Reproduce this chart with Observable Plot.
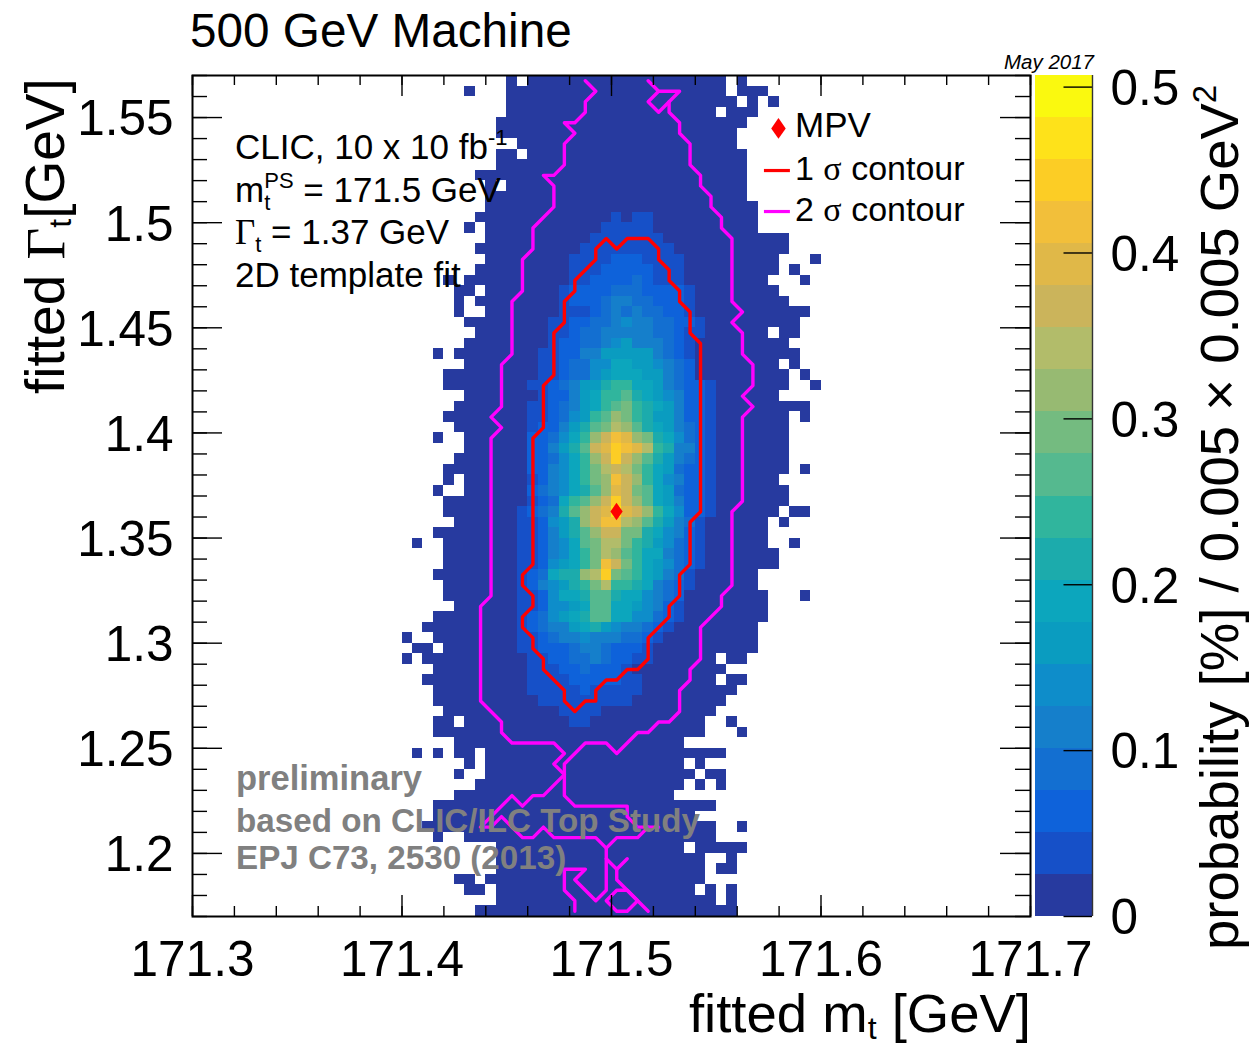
<!DOCTYPE html>
<html><head><meta charset="utf-8">
<script src="https://cdn.jsdelivr.net/npm/d3@7"></script>
<script src="https://cdn.jsdelivr.net/npm/@observablehq/plot@0.6"></script>
<style>
html,body{margin:0;padding:0;background:#fff}
#c{position:relative;width:1252px;height:1045px;overflow:hidden;font-family:"Liberation Sans",Arial,sans-serif;color:#000}
#c svg{position:absolute;left:0;top:0;background:transparent}
.t{position:absolute;white-space:nowrap;line-height:1}
.s{font-family:"Liberation Serif",serif}
sub,sup{line-height:0;vertical-align:baseline;position:relative}
</style></head><body><div id="c"></div>
<script>
const bandColors=["#273a9f","#1650c8","#0e62da","#136fd1","#157fcb","#0e8dca","#0a9cc0","#0ca6bd","#1cabac","#30b59d","#55b98f","#74bb80","#97ba72","#b2bc6a","#cbb45b","#e0b848","#f2bf3a","#fccd25","#fee21a","#faf90f"];
const bandWidth=0.02535;
const binSize=0.005;
const massRange=[171.3,171.7];
const widthRange=[1.17,1.57];
const massTicks=[171.3,171.4,171.5,171.6,171.7];
const widthTicks=[1.2,1.25,1.3,1.35,1.4,1.45,1.5,1.55];
const probTicks=[0,0.1,0.2,0.3,0.4,0.5];

// occupied bin runs per row, top row first: [firstColumn,lastColumn]
const occupied=[
[[30,30],[32,50],[52,52]],[[26,26],[30,50],[52,54]],[[30,51],[53,53],[55,55]],[[30,49],[51,53]],[[29,52]],[[29,51]],[[31,51]],[[29,30],[32,52]],[[29,52]],[[27,52]],
[[28,28],[30,52]],[[28,52]],[[28,53]],[[27,53]],[[26,26],[28,53]],[[28,56]],[[27,56]],[[28,55],[59,59]],[[27,55],[57,57]],[[24,24],[26,54],[58,58]],
[[25,26],[28,55]],[[25,25],[27,56]],[[25,25],[28,58]],[[26,57]],[[27,54],[56,57]],[[26,56]],[[23,23],[25,57]],[[26,55],[57,57]],[[24,56],[58,58]],[[24,56],[59,59]],
[[26,55]],[[25,58]],[[24,56],[58,58]],[[25,56]],[[23,23],[26,56]],[[26,56]],[[25,56]],[[24,56],[58,58]],[[24,24],[26,55]],[[23,23],[26,56]],
[[24,56]],[[24,55],[57,58]],[[25,54],[56,56]],[[23,54]],[[21,21],[24,54],[57,57]],[[24,55]],[[24,55]],[[23,53]],[[24,53]],[[24,54],[58,58]],
[[25,54]],[[23,54]],[[22,53]],[[20,20],[23,53]],[[21,22],[24,53]],[[20,20],[22,49],[51,52]],[[23,50]],[[22,49],[51,52]],[[23,51]],[[23,50]],
[[24,49]],[[23,24],[26,48],[51,51]],[[23,48],[52,52]],[[25,46]],[[21,21],[23,23],[25,26],[28,50]],[[26,26],[28,46],[48,48]],[[25,25],[28,47],[49,50]],[[27,46],[48,48],[50,50]],[[25,45]],[[23,49]],
[[23,47]],[[22,49],[52,52]],[[23,23],[26,49]],[[29,46],[48,52]],[[29,48],[51,51]],[[29,48],[50,51]],[[25,26],[28,48]],[[26,27],[29,47],[49,49],[51,51]],[[29,49],[51,51]],[[27,51]]
];

// colour band (1 = lowest) of the inner bins: [row, firstColumn, bands]
const interior=[
[13,40,[2,1,2,2]],
[14,39,[2,2,2,2,2]],
[15,38,[2,2,2,2,2,2,2]],
[16,37,[2,2,2,2,2,2,2,2,2]],
[17,36,[2,2,2,2,3,3,3,2,2,2,2]],
[18,36,[2,2,2,3,3,3,3,3,2,2,2]],
[19,36,[2,2,3,3,3,3,4,3,2,2,2]],
[20,35,[2,3,3,3,3,4,4,4,3,3,3,3,2]],
[21,35,[2,3,3,3,4,5,5,4,4,3,3,3,2]],
[22,35,[2,2,2,3,4,5,4,5,4,4,3,3,2]],
[23,34,[2,2,3,3,4,4,5,6,5,5,4,4,3,3,2]],
[24,34,[2,2,3,4,4,5,5,5,5,5,4,4,3,2,2]],
[25,34,[2,3,3,4,4,5,6,7,5,5,5,4,3,2]],
[26,33,[2,2,3,3,5,5,7,7,7,7,7,5,4,3,2]],
[27,33,[2,2,3,4,4,6,6,8,8,7,7,6,5,4,3]],
[28,33,[2,2,3,4,4,6,7,8,8,8,7,7,5,4,3]],
[29,32,[2,2,3,4,5,7,7,9,10,10,8,8,7,5,4,3,3,2]],
[30,33,[2,3,3,5,7,8,10,10,11,9,8,7,6,5,3,3,2]],
[31,32,[2,2,3,4,5,7,8,10,11,12,10,9,8,7,5,3,3,2]],
[32,32,[2,2,3,4,6,7,10,11,13,12,10,9,7,7,5,3,3,2]],
[33,32,[2,3,3,5,7,9,11,12,14,13,11,9,8,7,5,4,3,2]],
[34,32,[3,3,4,6,8,10,13,15,17,16,13,12,9,8,6,4,3,2]],
[35,32,[3,3,5,7,9,11,15,16,18,17,16,14,10,9,5,5,3,2]],
[36,32,[3,3,4,6,8,10,13,15,18,15,13,11,9,7,5,4,3,2]],
[37,32,[3,3,5,6,8,10,12,14,15,14,12,10,8,7,4,3,3,2]],
[38,32,[2,3,5,6,8,10,12,13,17,15,13,10,8,6,5,3,3,2]],
[39,32,[3,4,5,6,8,9,11,13,16,15,12,11,8,7,4,3,3,2]],
[40,32,[2,3,4,8,10,11,13,15,18,15,13,11,8,7,5,3,3,2]],
[41,31,[2,3,4,5,9,11,13,15,16,19,16,15,13,10,8,6,3,3,2]],
[42,31,[2,2,3,6,7,9,13,15,17,17,14,13,11,9,7,5,4,2]],
[43,31,[2,2,3,5,7,9,11,13,15,15,12,12,9,8,6,5,3,2]],
[44,31,[2,2,3,5,6,8,11,12,14,14,12,10,9,7,6,4,3,2]],
[45,31,[2,2,3,5,6,8,10,12,14,13,11,10,8,8,5,4,3,2]],
[46,31,[2,2,3,6,7,8,10,12,17,15,12,10,8,7,6,4,3,2]],
[47,31,[2,3,4,8,9,9,13,14,18,12,11,10,8,7,5,4,2]],
[48,31,[2,3,5,6,7,9,10,12,14,10,10,9,8,5,4,3,2]],
[49,31,[2,2,3,6,8,8,9,11,11,9,8,8,6,5,4,3]],
[50,31,[2,2,3,6,6,7,8,11,11,8,8,7,6,5,3,2]],
[51,31,[2,3,4,6,7,8,9,11,11,8,8,6,6,4,3,2]],
[52,31,[2,3,4,5,5,7,8,9,7,6,5,5,4,3,2]],
[53,31,[2,2,3,4,5,5,6,5,5,5,4,4,3,2]],
[54,31,[2,2,3,3,3,4,5,5,4,3,3,3,2]],
[55,32,[2,2,3,3,4,4,5,4,3,3,2,2]],
[56,32,[2,2,2,3,3,4,3,3,3,2]],
[57,32,[2,2,2,2,3,3,3,3,3,2,2]],
[58,32,[2,2,2,2,2,3,2,2,2,2,2]],
[59,33,[2,2,2,2,2,2,2,2,2]],
[60,35,[2,2,2,2]],
[61,36,[2,2]]
];

// contours run through bin centres: [column,row]
const contour1=[[39,15],[38,16],[38,17],[36,19],[36,20],[35,21],[35,23],[34,24],[34,28],[33,29],[33,33],[32,34],[32,46],[31,47],[31,48],[32,49],[32,50],[31,51],[31,52],[32,53],[32,54],[33,55],[33,56],[35,58],[35,59],[36,60],[37,59],[38,59],[38,58],[39,57],[40,57],[41,56],[42,56],[43,55],[43,53],[45,51],[45,50],[46,49],[46,47],[47,46],[47,42],[48,41],[48,25],[47,24],[47,22],[46,21],[46,20],[45,19],[45,18],[44,17],[44,16],[43,15],[41,15],[40,16],[39,15]];
const contour2Left=[[37,0],[38,1],[37,2],[37,3],[36,4],[35,4],[36,5],[35,6],[35,8],[34,9],[33,9],[34,10],[34,12],[32,14],[32,16],[31,17],[31,20],[30,21],[30,26],[29,27],[29,31],[28,32],[29,33],[28,34],[28,49],[27,50],[27,59],[28,60],[29,61],[29,62],[30,63],[34,63],[35,64],[34,65],[35,66],[33,68],[32,68],[31,69],[30,68],[27,71],[28,71],[29,70],[31,72],[32,72],[33,71],[34,72],[38,72],[39,73],[39,77],[38,78],[36,76],[37,75],[35,75],[35,77],[36,78],[36,79]];
const contour2Right=[[43,0],[44,1],[46,1],[45,2],[45,3],[46,4],[46,5],[47,6],[47,8],[48,9],[48,10],[49,11],[49,12],[50,13],[50,14],[51,15],[51,21],[52,22],[51,23],[52,24],[52,26],[53,27],[53,29],[52,30],[53,31],[52,32],[52,40],[51,41],[51,48],[50,49],[50,50],[48,52],[48,55],[47,56],[47,57],[46,58],[46,60],[45,61],[44,61],[43,62],[42,62],[40,64],[39,63],[37,63],[35,65],[35,68],[36,69],[41,69],[41,70],[42,71],[44,71]];
const contour2Loop=[[44,1],[43,2],[44,3],[45,2]];
const contour2Branch=[[39,73],[40,72],[42,72],[43,71]];
const contour2Tail1=[[39,74],[40,75],[41,74]];
const contour2Tail2=[[40,75],[40,76],[43,79]];
const contour2Ring=[[40,77],[41,77],[42,78],[41,79],[40,79],[39,78],[40,77]];

const mpv=[{x:171.5024,y:1.3626}];
const legendDiamond=[{x:171.5797,y:1.5448}];
const legendLines=[{y:1.5248,x1:171.573,x2:171.5854,c:"#ff0000"},{y:1.5053,x1:171.573,x2:171.5854,c:"#ff00ff"}];

const binX=c=>massRange[0]+binSize*(c+0.5);
const binY=r=>widthRange[1]-binSize*(r+0.5);
const level=new Map();
interior.forEach(([r,c0,bs])=>bs.forEach((b,i)=>level.set(r+"_"+(c0+i),b)));
const cells=[];
occupied.forEach((runs,r)=>runs.forEach(([a,b])=>{for(let c=a;c<=b;c++){
  const band=level.get(r+"_"+c)||1;
  cells.push({x1:massRange[0]+binSize*c,x2:massRange[0]+binSize*(c+1),y1:widthRange[1]-binSize*(r+1),y2:widthRange[1]-binSize*r,v:(band-0.5)*bandWidth});
}}));
const thresholds=d3.range(1,20).map(i=>i*bandWidth);
const toLine=(pts,k)=>pts.map(([c,r])=>({x:binX(c),y:binY(r),k}));
const mag=[contour2Left,contour2Right,contour2Loop,contour2Branch,contour2Tail1,contour2Tail2,contour2Ring].flatMap((p,i)=>toLine(p,i));

const narrowDiamond={draw(ctx,size){const h=Math.sqrt(size)*0.9,w=h*0.7;ctx.moveTo(0,-h);ctx.lineTo(w,0);ctx.lineTo(0,h);ctx.lineTo(-w,0);ctx.closePath();}};

const xMinor=d3.range(0,21).map(i=>171.3+i*0.02);
const yMinor=d3.range(0,41).map(i=>1.17+i*0.01);
const xMajor=massTicks, yMajor=widthTicks;
const dy=0.4/841, dx=0.4/838;
const tickMarks=[
 Plot.ruleX(xMinor,{x:d=>d,y1:1.17,y2:1.17+10*dy,stroke:"#000",strokeWidth:1.4}),
 Plot.ruleX(xMinor,{x:d=>d,y1:1.57,y2:1.57-10*dy,stroke:"#000",strokeWidth:1.4}),
 Plot.ruleX(xMajor,{x:d=>d,y1:1.17,y2:1.17+21*dy,stroke:"#000",strokeWidth:1.4}),
 Plot.ruleX(xMajor,{x:d=>d,y1:1.57,y2:1.57-21*dy,stroke:"#000",strokeWidth:1.4}),
 Plot.ruleY(yMinor,{y:d=>d,x1:171.3,x2:171.3+15*dx,stroke:"#000",strokeWidth:1.4}),
 Plot.ruleY(yMinor,{y:d=>d,x1:171.7,x2:171.7-15*dx,stroke:"#000",strokeWidth:1.4}),
 Plot.ruleY(yMajor,{y:d=>d,x1:171.3,x2:171.3+30*dx,stroke:"#000",strokeWidth:1.4}),
 Plot.ruleY(yMajor,{y:d=>d,x1:171.7,x2:171.7-30*dx,stroke:"#000",strokeWidth:1.4})
];
const fontFamily='"Liberation Sans",Arial,sans-serif';
const main=Plot.plot({
 width:1252,height:1045,marginLeft:192,marginRight:222,marginTop:75,marginBottom:129,
 style:{fontFamily,background:"transparent",color:"#000"},
 x:{domain:massRange,label:null},
 y:{domain:widthRange,label:null},
 color:{type:"threshold",domain:thresholds,range:bandColors},
 marks:[
  Plot.rect(cells,{x1:"x1",x2:"x2",y1:"y1",y2:"y2",fill:"v",shapeRendering:"crispEdges"}),
  Plot.line(toLine(contour1,0),{x:"x",y:"y",stroke:"#ff0000",strokeWidth:3.4,curve:"linear",strokeLinejoin:"round"}),
  Plot.line(mag,{x:"x",y:"y",z:"k",stroke:"#ff00ff",strokeWidth:3.4,curve:"linear",strokeLinejoin:"round"}),
  Plot.dot(mpv,{x:"x",y:"y",symbol:narrowDiamond,r:5.5,fill:"#ff0000",stroke:"none"}),
  Plot.dot(legendDiamond,{x:"x",y:"y",symbol:narrowDiamond,r:6.5,fill:"#ff0000",stroke:"none"}),
  Plot.ruleY(legendLines,{y:"y",x1:"x1",x2:"x2",stroke:"c",strokeWidth:3.2}),
  ...tickMarks,
  Plot.frame({stroke:"#000",strokeWidth:2}),
  Plot.axisX({ticks:massTicks,tickSize:0,tickPadding:24,fontSize:49.5,label:null,tickFormat:d=>d.toFixed(1)}),
  Plot.axisY({ticks:widthTicks,tickSize:0,tickPadding:19,fontSize:49.5,dy:2,label:null,tickFormat:d=>String(+d.toFixed(2))})
 ]
});
const bands=bandColors.map((c,i)=>({y1:i*bandWidth,y2:(i+1)*bandWidth,v:(i+0.5)*bandWidth}));
const bar=Plot.plot({
 width:1252,height:1045,marginLeft:1035,marginRight:160,marginTop:75,marginBottom:129,
 style:{fontFamily,background:"transparent",color:"#000"},
 x:{domain:[0,1],axis:null},
 y:{domain:[0,20*bandWidth],label:null},
 color:{type:"threshold",domain:thresholds,range:bandColors},
 marks:[
  Plot.rect(bands,{x1:0,x2:1,y1:"y1",y2:"y2",fill:"v",shapeRendering:"crispEdges"}),
  Plot.ruleY(probTicks,{y:d=>d,x1:0.5,x2:1,stroke:"#000",strokeWidth:1.4}),
  Plot.ruleX([1],{stroke:"#333",strokeWidth:1.4}),
  Plot.axisY({anchor:"right",ticks:probTicks,tickSize:0,tickPadding:18,fontSize:49.5,dy:2,label:null,tickFormat:d=>String(d)})
 ]
});
const c=document.getElementById("c");
c.append(main,bar);
const notes=[
 ['500 GeV Machine','left:190px;top:7px;font-size:47.7px'],
 ['CLIC, 10 x 10 fb<sup style="font-size:22px;top:-14px">-1</sup>','left:235px;top:129px;font-size:35px'],
 ['m<sub style="font-size:22px;top:8px;margin-right:-6px">t</sub><sup style="font-size:22px;top:-14px">PS</sup> = 171.5 GeV','left:235px;top:172px;font-size:35px'],
 ['<span class="s">Γ</span><sub style="font-size:22px;top:8px">t</sub> = 1.37 GeV','left:235px;top:214px;font-size:35px'],
 ['2D template fit','left:235px;top:257px;font-size:35px'],
 ['<b>preliminary</b>','left:236px;top:761px;font-size:34.5px;color:#808080'],
 ['<b>based on CLIC/ILC Top Study</b>','left:236px;top:804px;font-size:33.2px;color:#808080'],
 ['<b>EPJ C73, 2530 (2013)</b>','left:236px;top:841px;font-size:33.2px;color:#808080'],
 ['MPV','left:795px;top:107px;font-size:35px'],
 ['1 <span class="s">σ</span> contour','left:795px;top:151px;font-size:34px'],
 ['2 <span class="s">σ</span> contour','left:795px;top:192px;font-size:34px'],
 ['<i>May 2017</i>','right:158px;top:52px;font-size:20.5px']
];
notes.forEach(([h,s])=>{const d=document.createElement("div");d.className="t";d.style.cssText=s;d.innerHTML=h;c.append(d);});
const xl=document.createElement("div");xl.className="t";xl.style.cssText="right:221px;top:987px;font-size:54.5px";
xl.innerHTML='fitted m<sub style="font-size:32px;top:7px">t</sub> [GeV]';c.append(xl);
const yl=document.createElement("div");yl.className="t";yl.style.cssText="left:18px;top:394px;font-size:55px;transform-origin:0 0;transform:rotate(-90deg)";
yl.innerHTML='fitted <span class="s">Γ</span><sub style="font-size:32px;top:7px">t</sub>[GeV]';c.append(yl);
const zl=document.createElement("div");zl.className="t";zl.style.cssText="left:1193px;top:950px;font-size:54.5px;transform-origin:0 0;transform:rotate(-90deg)";
zl.innerHTML='probability [%] / 0.005 × 0.005 GeV<sup style="font-size:33px;top:-22px">2</sup>';c.append(zl);
</script></body></html>
